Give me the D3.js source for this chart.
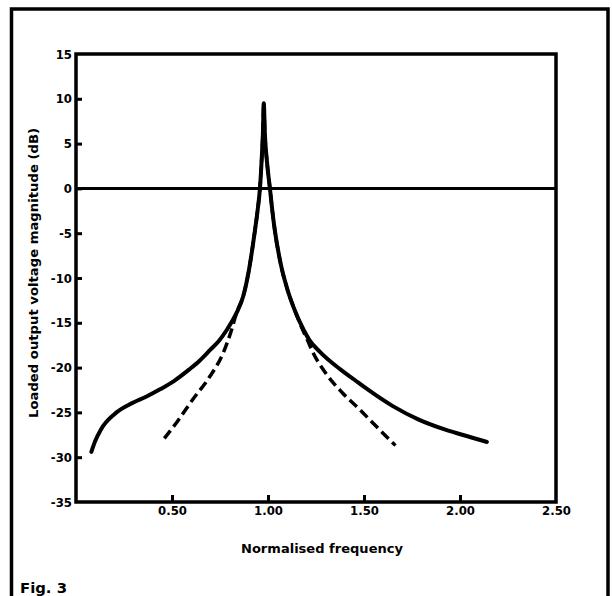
<!DOCTYPE html>
<html>
<head>
<meta charset="utf-8">
<script src="https://cdn.jsdelivr.net/npm/d3@7"></script>
<style>
  html, body { margin: 0; padding: 0; background: #fff; }
  svg { display: block; }
  .lbl { font-family: "DejaVu Sans Condensed", "DejaVu Sans", sans-serif; font-stretch: condensed; font-weight: bold; fill: #000; }
</style>
</head>
<body>
<svg id="chart" width="612" height="596"></svg>
<script>
// Loaded response (solid): normalised frequency vs output magnitude in dB
const loadedFreq = [0.08, 0.10, 0.13, 0.20, 0.28, 0.37, 0.44, 0.51, 0.59, 0.645, 0.70, 0.745, 0.785, 0.836, 0.870, 0.900, 0.930, 0.945, 0.958, 0.968, 0.9735, 0.978, 0.9835, 0.9945, 1.010, 1.022, 1.035, 1.068, 1.10, 1.143, 1.186, 1.215, 1.273, 1.377, 1.447, 1.51, 1.65, 1.785, 1.92, 2.06, 2.14];
const loadedDb   = [-29.4, -28.2, -26.9, -25.2, -24.1, -23.2, -22.4, -21.5, -20.2, -19.2, -18.0, -17.0, -15.8, -13.9, -12.1, -9.2, -5.0, -2.6, 0.0, 3.6, 6.2, 9.5, 6.2, 3.0, 0.0, -2.4, -4.6, -8.6, -11.2, -13.8, -15.8, -16.9, -18.3, -20.2, -21.3, -22.3, -24.3, -25.8, -26.9, -27.8, -28.3];

// Comparison response (dashed)
const dashedFreq = [0.46, 0.525, 0.61, 0.697, 0.766, 0.81, 0.836, 0.870, 0.900, 0.930, 0.945, 0.958, 0.968, 0.9735, 0.978, 0.9835, 0.9945, 1.010, 1.022, 1.035, 1.068, 1.10, 1.143, 1.175, 1.205, 1.234, 1.30, 1.387, 1.474, 1.561, 1.664];
const dashedDb   = [-27.9, -26.1, -23.5, -21.0, -18.4, -15.8, -13.9, -12.1, -9.2, -5.0, -2.6, 0.0, 3.6, 6.2, 9.5, 6.2, 3.0, 0.0, -2.4, -4.6, -8.6, -11.2, -13.8, -15.5, -16.9, -18.3, -20.6, -22.8, -24.6, -26.5, -28.7];

const xTicks = [0.5, 1.0, 1.5, 2.0, 2.5];
const yTicks = [15, 10, 5, 0, -5, -10, -15, -20, -25, -30, -35];

const xTitle = "Normalised frequency";
const yTitle = "Loaded output voltage magnitude (dB)";
const figLabel = "Fig. 3";

const svg = d3.select("#chart");
const plot = { left: 76, right: 556, top: 54, bottom: 502 };

const x = d3.scaleLinear().domain([0, 2.5]).range([plot.left, plot.right]);
const y = d3.scaleLinear().domain([-35, 15]).range([plot.bottom, plot.top]);

// Outer figure border (open at the bottom edge of the page)
svg.append("path")
  .attr("d", "M11.5,600 L11.5,9 L608,9 L608,600")
  .attr("fill", "none").attr("stroke", "#000").attr("stroke-width", 3.5);

// Plot frame
svg.append("rect")
  .attr("x", plot.left).attr("y", plot.top)
  .attr("width", plot.right - plot.left).attr("height", plot.bottom - plot.top)
  .attr("fill", "none").attr("stroke", "#000").attr("stroke-width", 3.5);

// Axes with inward ticks
const yAxis = svg.append("g")
  .attr("transform", `translate(${plot.left},0)`)
  .call(d3.axisLeft(y).tickValues(yTicks).tickSizeInner(-6).tickSizeOuter(0).tickPadding(4).tickFormat(d => String(d)));
const xAxis = svg.append("g")
  .attr("transform", `translate(0,${plot.bottom})`)
  .call(d3.axisBottom(x).tickValues(xTicks).tickSizeInner(-7).tickSizeOuter(0).tickPadding(5).tickFormat(d3.format(".2f")));

[yAxis, xAxis].forEach(g => {
  g.select(".domain").remove();
  g.selectAll(".tick line").attr("stroke", "#000").attr("stroke-width", 3);
  g.selectAll(".tick text").attr("class", "lbl").attr("font-size", 13).attr("fill", "#000");
});
yAxis.selectAll(".tick line").filter(d => d === 15 || d === -35).remove();
xAxis.selectAll(".tick line").filter(d => d === 2.5).remove();
xAxis.selectAll(".tick text").attr("dy", "0.6em");

// 0 dB reference line
svg.append("line")
  .attr("x1", plot.left).attr("x2", plot.right)
  .attr("y1", y(0)).attr("y2", y(0))
  .attr("stroke", "#000").attr("stroke-width", 3);

const line = d3.line()
  .x(d => x(d[0])).y(d => y(d[1]))
  .curve(d3.curveMonotoneX);

const dashedData = dashedFreq.map((f, i) => [f, dashedDb[i]]);
const loadedData = loadedFreq.map((f, i) => [f, loadedDb[i]]);

svg.append("path")
  .datum(dashedData)
  .attr("d", line)
  .attr("fill", "none").attr("stroke", "#000")
  .attr("stroke-width", 3.5)
  .attr("stroke-dasharray", "10,5");

svg.append("path")
  .datum(loadedData)
  .attr("d", line)
  .attr("fill", "none").attr("stroke", "#000")
  .attr("stroke-width", 4)
  .attr("stroke-linecap", "round")
  .attr("stroke-linejoin", "round");

// Titles
svg.append("text").attr("class", "lbl")
  .attr("x", 322).attr("y", 553)
  .attr("text-anchor", "middle").attr("font-size", 13)
  .attr("textLength", 162).attr("lengthAdjust", "spacingAndGlyphs")
  .text(xTitle);

svg.append("text").attr("class", "lbl")
  .attr("transform", "translate(38,273) rotate(-90)")
  .attr("text-anchor", "middle").attr("font-size", 13)
  .attr("textLength", 290).attr("lengthAdjust", "spacingAndGlyphs")
  .text(yTitle);

svg.append("text").attr("class", "lbl")
  .attr("x", 20).attr("y", 593)
  .attr("font-size", 14)
  .attr("textLength", 47).attr("lengthAdjust", "spacingAndGlyphs")
  .text(figLabel);
</script>
</body>
</html>
